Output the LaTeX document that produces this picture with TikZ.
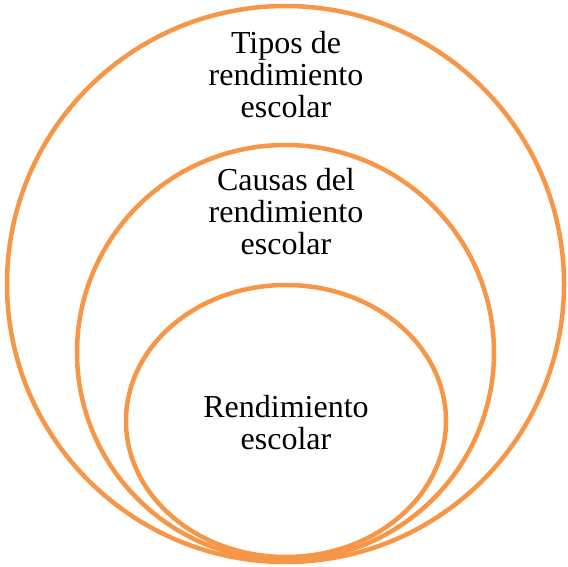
\documentclass[tikz,border=0pt]{standalone}
\usepackage{fontspec}
\setmainfont{Liberation Serif}
\usetikzlibrary{shapes.geometric}
\definecolor{naranja}{HTML}{F79646}
\begin{document}
\begin{tikzpicture}[x=1pt,y=-1pt,
    anillo/.style={
      % The shape:
      ellipse,inner sep=0pt,
      % The rest
      line width=4.5pt,draw=naranja},
    rotulo/.style={
      align=center,inner sep=0pt,
      font=\fontsize{32}{32}\selectfont}]
    \useasboundingbox (0,0) rectangle (568,567);
    \node (tipos)  [anillo,minimum width=557pt,minimum height=556pt] at (285.5,284) {};
    \node (causas)  [anillo,minimum width=417pt,minimum height=415pt] at (285.5,352.5) {};
    \node (rend)  [anillo,minimum width=320pt,minimum height=272pt] at (286,421) {};
    \node (tiposlbl)  [rotulo] at (286,75) {Tipos de\\rendimiento\\escolar};
    \node (causaslbl)  [rotulo] at (286,212) {Causas del\\rendimiento\\escolar};
    \node (rendlbl)  [rotulo] at (286,423) {Rendimiento\\escolar};
  \end{tikzpicture}
\end{document}
